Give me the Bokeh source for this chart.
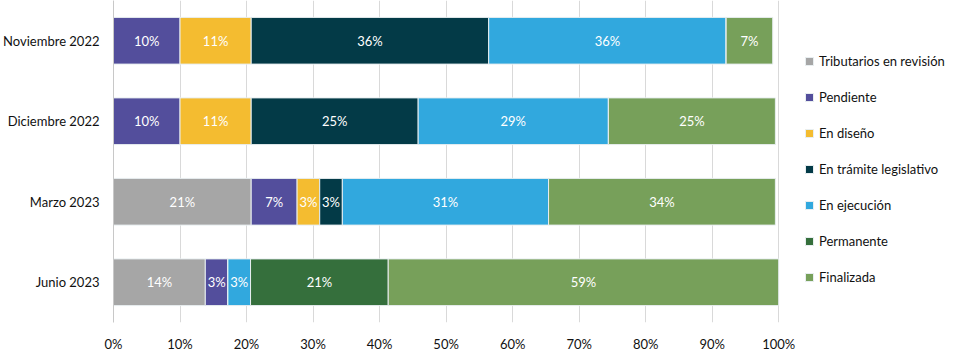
import numpy as np
from bokeh.plotting import figure
from bokeh.models import ColumnDataSource, FixedTicker, PrintfTickFormatter, Legend, LegendItem
from bokeh.core.properties import value
from bokeh.embed import file_html
from bokeh.resources import INLINE

categories = ["Noviembre 2022", "Diciembre 2022", "Marzo 2023", "Junio 2023"]
series = ["Tributarios en revisión", "Pendiente", "En diseño", "En trámite legislativo",
          "En ejecución", "Permanente", "Finalizada"]
tributarios = [0, 0, 20.7, 13.8]
pendiente = [10.0, 10.0, 6.9, 3.4]
diseno = [10.7, 10.7, 3.4, 0]
tramite = [35.7, 25.1, 3.4, 0]
ejecucion = [35.7, 28.6, 31.0, 3.4]
permanente = [0, 0, 0, 20.7]
finalizada = [7.0, 25.1, 34.1, 58.7]
colors = ["#a6a6a6", "#534e9c", "#f4bc30", "#033a47", "#31a8de", "#356f3c", "#77a05a"]
ticks = [0, 10, 20, 30, 40, 50, 60, 70, 80, 90, 100]

FONT = "Lato"
W, H = 956, 354
LEFT, BOTTOM = 112, 23
PLOT_W = 666  # pixels spanned by 0..100 %
values_list = [tributarios, pendiente, diseno, tramite, ejecucion, permanente, finalizada]
keys = ["s%d" % i for i in range(len(series))]
data = {"cat": categories}
for k, v in zip(keys, values_list):
    data[k] = v
source = ColumnDataSource(data)

x_end = 100.0 * (W - LEFT) / PLOT_W
p = figure(y_range=list(reversed(categories)), x_range=(0, x_end), width=W, height=H,
           output_backend="svg", toolbar_location=None,
           min_border_left=LEFT, min_border_right=0, min_border_top=0, min_border_bottom=BOTTOM)
renderers = p.hbar_stack(keys, y="cat", height=0.58, color=colors, source=source,
                         line_color="#e8eef0", line_width=1)

# labels
lx, ly, lt = [], [], []
arr = np.array(values_list, dtype=float)
cum = np.cumsum(arr, axis=0)
for si in range(arr.shape[0]):
    for ci in range(arr.shape[1]):
        v = arr[si, ci]
        if v > 0:
            lx.append(cum[si, ci] - v / 2)
            ly.append(categories[ci])
            lt.append("%d%%" % int(np.floor(v + 0.5)))
p.text(x=lx, y=ly, text=lt, text_color="white", text_align="center", text_baseline="middle",
       text_font=value(FONT), text_font_size="13px")

p.xaxis.ticker = FixedTicker(ticks=ticks)
p.xaxis.formatter = PrintfTickFormatter(format="%d%%")
p.xaxis.axis_line_color = None
p.xaxis.major_tick_line_color = None
p.xaxis.minor_tick_line_color = None
p.xaxis.major_label_standoff = 7
p.xaxis.major_label_text_font = FONT
p.xaxis.major_label_text_font_size = "13px"
p.xaxis.major_label_text_color = "#111111"
p.yaxis.axis_line_color = "#c8c8c8"
p.yaxis.major_tick_line_color = None
p.yaxis.minor_tick_line_color = None
p.yaxis.major_label_standoff = 8
p.yaxis.major_label_text_font = FONT
p.yaxis.major_label_text_font_size = "13px"
p.yaxis.major_label_text_color = "#111111"
p.xgrid.ticker = FixedTicker(ticks=ticks)
p.xgrid.grid_line_color = "#d9d9d9"
p.ygrid.grid_line_color = None
p.outline_line_color = None

items = [LegendItem(label=s, renderers=[r]) for s, r in zip(series, renderers)]
legend = Legend(items=items, location=(691, 35), orientation="vertical",
                glyph_width=10, glyph_height=10, label_standoff=5, spacing=16,
                padding=0, margin=0, border_line_color=None, background_fill_alpha=0,
                label_text_font=FONT, label_text_font_size="13px", label_height=20,
                label_text_color="#111111")
p.add_layout(legend, "center")

open("out.html", "w").write(file_html(p, INLINE))
